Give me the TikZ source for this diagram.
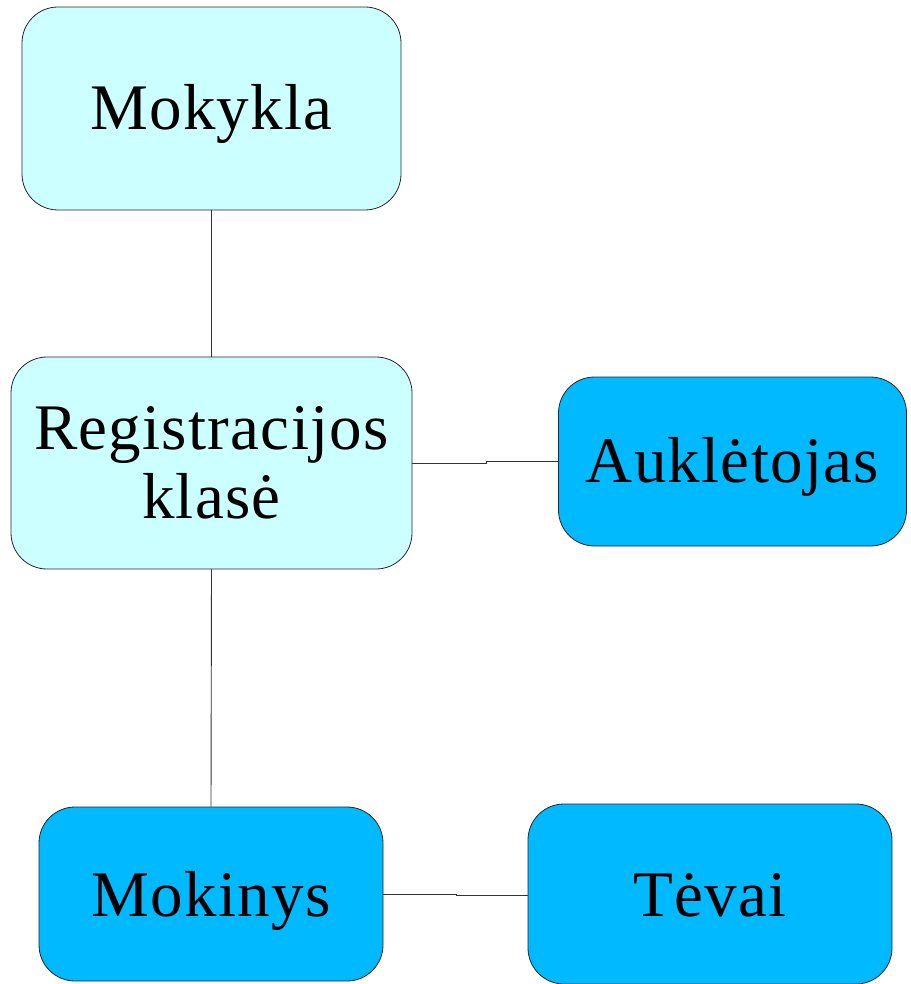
\documentclass[tikz,border=0pt]{standalone}
\usepackage{fontspec}
\setmainfont{Liberation Serif}[LetterSpace=2]
\definecolor{paleC}{HTML}{CCFFFF}
\definecolor{skyB}{HTML}{00B9FF}
\begin{document}
\begin{tikzpicture}[x=1pt,y=-1pt,
  box/.style={draw=black!85, line width=0.8pt, rounded corners=36pt, inner sep=0pt},
  light/.style={box, fill=paleC},
  dark/.style={box, fill=skyB},
  lbl/.style={anchor=base, inner sep=0pt, font=\fontsize{65}{69}\selectfont},
  conn/.style={draw=black!80, line width=0.9pt}]
\useasboundingbox (0,0) rectangle (910,984);
\node[light, minimum width=379pt, minimum height=203pt] (mok) at (211.5,108.5) {};
\node[light, minimum width=401pt, minimum height=212pt] (reg) at (211.5,463) {};
\node[dark, minimum width=348pt, minimum height=169pt] (auk) at (732.5,461.5) {};
\node[dark, minimum width=344pt, minimum height=174pt] (moki) at (211,894) {};
\node[dark, minimum width=364pt, minimum height=180pt] (tev) at (710,894) {};
\node[lbl] (tmok) at (211.5,130) {Mokykla};
\node[lbl] (treg1) at (211.5,449) {Registracijos};
\node[lbl] (treg2) at (211.5,518) {klasė};
\node[lbl] (tauk) at (732.5,482) {Auklėtojas};
\node[lbl] (tmoki) at (211,916) {Mokinys};
\node[lbl] (ttev) at (710,916) {Tėvai};
\coordinate (k1) at (486,0);
\coordinate (k2) at (456,0);
\draw[conn] (mok.south) -- (reg.north);
\draw[conn] (reg.south) -- (moki.north);
\draw[conn] (reg.east) -- (reg.east -| k1) -- ([yshift=0.5pt]auk.west -| k1) -- ([yshift=0.5pt]auk.west);
\draw[conn] (moki.east) -- (moki.east -| k2) -- ([yshift=-1pt]tev.west -| k2) -- ([yshift=-1pt]tev.west);
\end{tikzpicture}
\end{document}
